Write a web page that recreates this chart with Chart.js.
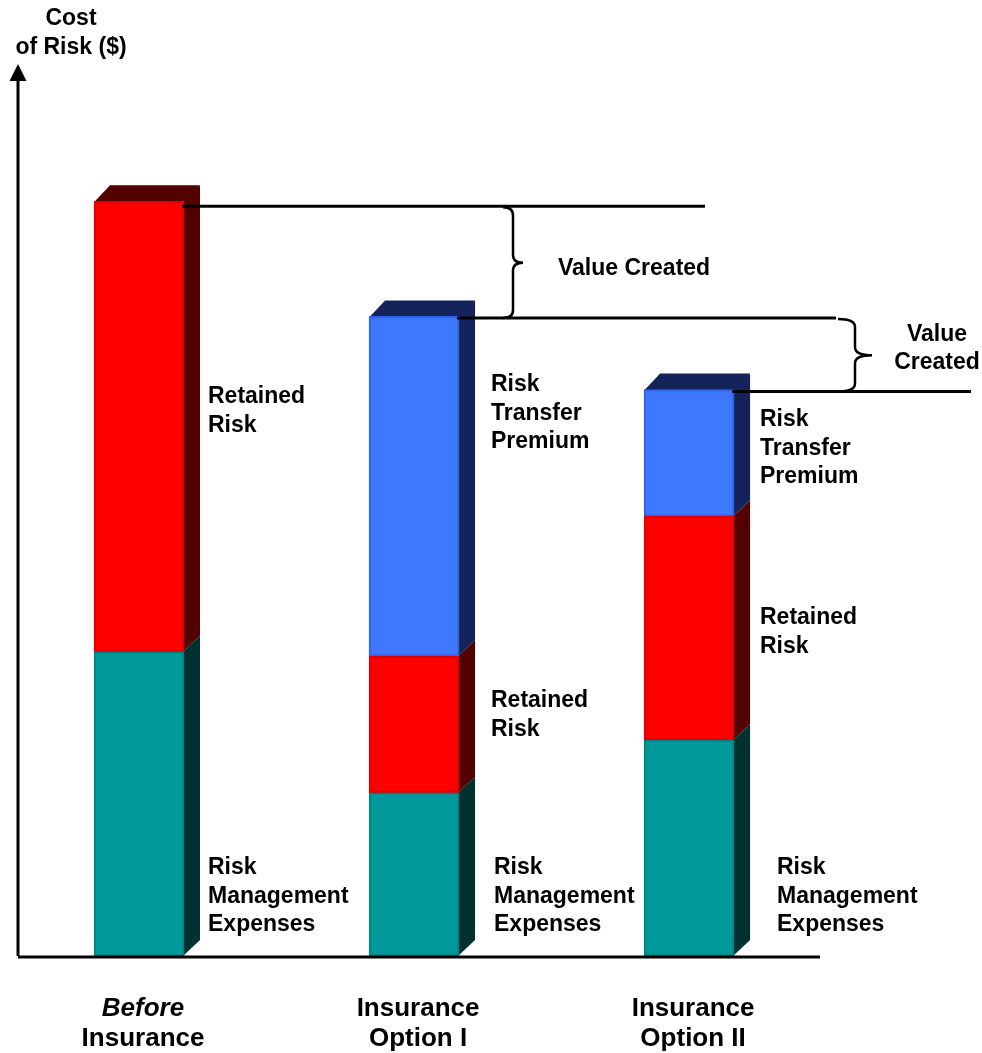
<!DOCTYPE html>
<html>
<head>
<meta charset="utf-8">
<script src="https://cdn.jsdelivr.net/npm/chart.js@4.4.1/dist/chart.umd.min.js"></script>
<style>
  html, body { margin: 0; padding: 0; background: #ffffff; }
  #wrap { width: 982px; height: 1053px; position: relative; }
</style>
</head>
<body>
<div id="wrap"><canvas id="c" width="982" height="1053"></canvas></div>
<script>
// ---- data ----
const categories = [["Before", "Insurance"], ["Insurance", "Option I"], ["Insurance", "Option II"]];
const seriesNames = ["Risk Management Expenses", "Retained Risk", "Risk Transfer Premium"];
const riskManagementExpenses = [34.1, 18.3, 24.2];
const retainedRisk = [50.5, 15.3, 25.1];
const riskTransferPremium = [null, 38.1, 14.2];
const axisTitle = ["Cost", "of Risk ($)"];
const valueCreatedText = "Value Created";

// ---- styles ----
const FONT = '"Liberation Sans", Arial, sans-serif';
const frontColors = ["#009999", "#ff0000", "#3d78ff"];
const borderColors = ["#008282", "#e00000", "#2f63e6"];
const sideColors = ["#003030", "#520000", "#14245a"];
const DEPTH = 16;

// segment label layout (pixel anchors: left x, first-line centre y) per [dataset][bar]
const labelLayout = [
  [{x: 208, y: 868}, {x: 494, y: 868}, {x: 777, y: 868}],
  [{x: 208, y: 397}, {x: 491, y: 701}, {x: 760, y: 618}],
  [null, {x: 491, y: 385}, {x: 760, y: 420}]
];
const labelLines = [
  ["Risk", "Management", "Expenses"],
  ["Retained", "Risk"],
  ["Risk", "Transfer", "Premium"]
];
const lineEnds = [705, 836, 971];

function toXY(arr) { return arr.map((v, i) => ({x: i, y: v})); }

const decoPlugin = {
  id: 'deco',
  beforeDatasetsDraw(chart) {
    const ctx = chart.ctx;
    const nBars = categories.length;
    ctx.save();
    for (let d = 0; d < chart.data.datasets.length; d++) {
      const meta = chart.getDatasetMeta(d);
      meta.data.forEach((bar, i) => {
        const v = chart.data.datasets[d].data[i].y;
        if (v === null || v === undefined) return;
        const p = bar.getProps(['x', 'y', 'base', 'width'], true);
        const right = p.x + p.width / 2;
        ctx.fillStyle = sideColors[d];
        ctx.beginPath();
        ctx.moveTo(right - 1, p.y);
        ctx.lineTo(right + DEPTH, p.y - DEPTH);
        ctx.lineTo(right + DEPTH, p.base - DEPTH);
        ctx.lineTo(right - 1, p.base);
        ctx.closePath();
        ctx.fill();
      });
    }
    // top faces
    for (let i = 0; i < nBars; i++) {
      let topD = -1;
      for (let d = chart.data.datasets.length - 1; d >= 0; d--) {
        const v = chart.data.datasets[d].data[i].y;
        if (v !== null && v !== undefined) { topD = d; break; }
      }
      if (topD < 0) continue;
      const bar = chart.getDatasetMeta(topD).data[i];
      const p = bar.getProps(['x', 'y', 'base', 'width'], true);
      const left = p.x - p.width / 2, right = p.x + p.width / 2;
      ctx.fillStyle = sideColors[topD];
      ctx.beginPath();
      ctx.moveTo(left, p.y + 1);
      ctx.lineTo(left + DEPTH, p.y - DEPTH);
      ctx.lineTo(right + DEPTH, p.y - DEPTH);
      ctx.lineTo(right, p.y + 1);
      ctx.closePath();
      ctx.fill();
    }
    ctx.restore();
  },
  afterDatasetsDraw(chart) {
    const ctx = chart.ctx;
    const xs = chart.scales.x, ys = chart.scales.y;
    const ca = chart.chartArea;
    ctx.save();
    // axes
    ctx.strokeStyle = '#000';
    ctx.fillStyle = '#000';
    ctx.lineWidth = 3;
    ctx.beginPath();
    ctx.moveTo(ca.left, ca.bottom + 1);
    ctx.lineTo(ca.right, ca.bottom + 1);
    ctx.stroke();
    ctx.beginPath();
    ctx.moveTo(ca.left, ca.bottom);
    ctx.lineTo(ca.left, ca.top + 14);
    ctx.stroke();
    ctx.beginPath();
    ctx.moveTo(ca.left, ca.top);
    ctx.lineTo(ca.left - 8.5, ca.top + 17);
    ctx.lineTo(ca.left + 8.5, ca.top + 17);
    ctx.closePath();
    ctx.fill();

    // totals & reference lines
    const totals = categories.map((_, i) =>
      riskManagementExpenses[i] + retainedRisk[i] + (riskTransferPremium[i] || 0));
    const topY = totals.map(t => ys.getPixelForValue(t));
    const barW = chart.getDatasetMeta(0).data[0].width;
    ctx.lineWidth = 3;
    const lineY = [topY[0] + 5, topY[1] + 1.5, topY[2] + 2];
    for (let i = 0; i < totals.length; i++) {
      const right = xs.getPixelForValue(i) + barW / 2;
      ctx.beginPath();
      ctx.moveTo(right - 2, lineY[i]);
      ctx.lineTo(lineEnds[i], lineY[i]);
      ctx.stroke();
    }
    // braces
    function brace(xEnd, xStem, xTip, yTop, yBot) {
      const yMid = (yTop + yBot) / 2;
      const r = 8;
      ctx.beginPath();
      ctx.moveTo(xEnd, yTop);
      ctx.quadraticCurveTo(xStem, yTop, xStem, yTop + r);
      ctx.lineTo(xStem, yMid - r);
      ctx.quadraticCurveTo(xStem, yMid, xTip, yMid);
      ctx.quadraticCurveTo(xStem, yMid, xStem, yMid + r);
      ctx.lineTo(xStem, yBot - r);
      ctx.quadraticCurveTo(xStem, yBot, xEnd, yBot);
      ctx.stroke();
    }
    ctx.lineWidth = 2.5;
    brace(503, 513, 523, lineY[0] + 1, lineY[1]);
    brace(838, 855, 872, lineY[1] + 1, lineY[2]);

    // texts
    ctx.fillStyle = '#000';
    ctx.textBaseline = 'middle';
    ctx.font = 'bold 23px ' + FONT;
    ctx.textAlign = 'left';
    ctx.fillText(valueCreatedText, 558, 269);
    ctx.textAlign = 'center';
    const vc = valueCreatedText.split(' ');
    ctx.fillText(vc[0], 937, 335);
    ctx.fillText(vc[1], 937, 363);
    // axis title
    ctx.fillText(axisTitle[0], 71, 19);
    ctx.fillText(axisTitle[1], 71, 47.5);

    // segment labels
    ctx.textAlign = 'left';
    for (let d = 0; d < labelLayout.length; d++) {
      for (let i = 0; i < labelLayout[d].length; i++) {
        const pos = labelLayout[d][i];
        if (!pos) continue;
        labelLines[d].forEach((ln, k) => ctx.fillText(ln, pos.x, pos.y + k * 28.2));
      }
    }
    // category labels
    ctx.textAlign = 'center';
    categories.forEach((lines, i) => {
      const cx = xs.getPixelForValue(i) + 4;
      lines.forEach((ln, k) => {
        ctx.font = (i === 0 && k === 0 ? 'italic bold 26px ' : 'bold 26px ') + FONT;
        ctx.fillText(ln, cx, 1009 + k * 30);
      });
    });
    ctx.restore();
  }
};

const datasets = [riskManagementExpenses, retainedRisk, riskTransferPremium].map((arr, d) => ({
  label: seriesNames[d],
  data: toXY(arr),
  backgroundColor: frontColors[d],
  borderColor: borderColors[d],
  borderWidth: 2,
  borderSkipped: false,
  barThickness: 90,
  stack: 's'
}));

new Chart(document.getElementById('c'), {
  type: 'bar',
  data: { datasets },
  options: {
    responsive: false,
    animation: false,
    events: [],
    layout: { padding: { left: 18, right: 162, top: 64, bottom: 97 } },
    plugins: { legend: { display: false }, tooltip: { enabled: false } },
    scales: {
      x: { type: 'linear', stacked: true, display: false, offset: false, min: -0.44, max: 2.476 },
      y: { type: 'linear', stacked: true, display: false, min: 0, max: 100 }
    }
  },
  plugins: [decoPlugin]
});
</script>
</body>
</html>
